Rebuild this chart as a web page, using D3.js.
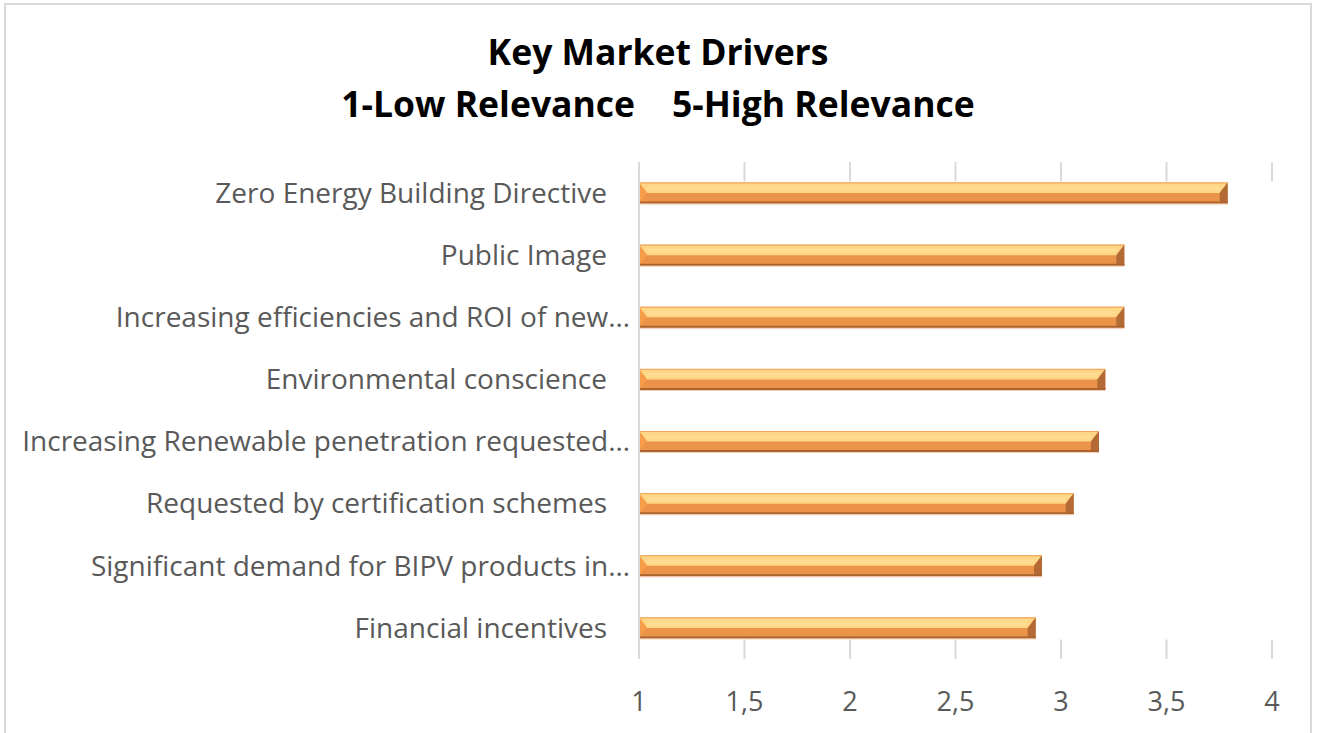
<!DOCTYPE html>
<html>
<head>
<meta charset="utf-8">
<script src="https://cdn.jsdelivr.net/npm/d3@7"></script>
<style>
  body { margin: 0; background: #fff; }
  text { font-family: "Open Sans", sans-serif; }
</style>
</head>
<body>
<div id="visualization"></div>
<script>
// values (scale 1..5, only 1..4 shown)
var drivers = [
  "Zero Energy Building Directive",
  "Public Image",
  "Increasing efficiencies and ROI of new\u2026",
  "Environmental conscience",
  "Increasing Renewable penetration requested\u2026",
  "Requested by certification schemes",
  "Significant demand for BIPV products in\u2026",
  "Financial incentives"
];
var scores = [3.79, 3.30, 3.30, 3.21, 3.18, 3.06, 2.91, 2.88];
var ticks = [1, 1.5, 2, 2.5, 3, 3.5, 4];
var titleLines = ["Key Market Drivers", "1-Low Relevance    5-High Relevance"];

render();

function render() {
  var width = 1317, height = 733;
  var data = drivers.map(function(d, i) { return {name: d, value: scores[i]}; });

  var svg = d3.select("#visualization").append("svg")
      .attr("width", width)
      .attr("height", height);

  // chart border
  svg.append("rect")
     .attr("x", 5).attr("y", 4)
     .attr("width", 1306).attr("height", 760)
     .attr("fill", "#fff")
     .attr("stroke", "#d9d9d9")
     .attr("stroke-width", 2);

  var x = d3.scaleLinear().domain([1, 4]).range([639, 1272]);
  var y = d3.scaleBand()
            .domain(drivers)
            .range([162, 659])
            .paddingInner(0.66)
            .paddingOuter(0.33);

  // title
  svg.append("text")
     .attr("x", 658)
     .attr("text-anchor", "middle")
     .style("font-weight", "bold")
     .style("font-size", "35.5px")
     .attr("fill", "#000")
     .selectAll("tspan")
     .data(titleLines)
     .enter().append("tspan")
     .attr("x", 658)
     .attr("y", function(d, i) { return 65 + i * 52; })
     .style("white-space", "pre")
     .text(function(d) { return d; });

  // gridlines: only the parts above the first bar and below the last one show
  var top = y(drivers[0]), bottom = y(drivers[drivers.length - 1]) + y.bandwidth();
  var grid = svg.append("g");
  grid.selectAll(".g-top")
     .data(ticks.slice(1))
     .enter().append("line")
     .attr("x1", d => x(d)).attr("x2", d => x(d))
     .attr("y1", 162).attr("y2", top - 1)
     .attr("stroke", "#d9d9d9")
     .attr("stroke-width", 2);
  grid.selectAll(".g-bot")
     .data(ticks.slice(1))
     .enter().append("line")
     .attr("x1", d => x(d)).attr("x2", d => x(d))
     .attr("y1", bottom + 1).attr("y2", 659)
     .attr("stroke", "#d9d9d9")
     .attr("stroke-width", 2);

  // x tick labels
  svg.append("g")
     .selectAll("text")
     .data(ticks)
     .enter().append("text")
     .attr("x", d => x(d))
     .attr("y", 711)
     .attr("text-anchor", "middle")
     .style("font-size", "27px")
     .attr("fill", "#595959")
     .text(d => String(d).replace(".", ","));

  // category labels
  svg.append("g")
     .selectAll("text")
     .data(drivers)
     .enter().append("text")
     .attr("x", d => x(1) - (d.slice(-1) === "\u2026" ? 9 : 32))
     .attr("y", d => y(d) + y.bandwidth() / 2)
     .attr("dy", "0.35em")
     .attr("text-anchor", "end")
     .style("font-size", "28px")
     .attr("fill", "#595959")
     .text(d => d);

  // bevelled bars
  var b = 8;
  var bars = svg.append("g").selectAll("g")
     .data(data)
     .enter().append("g");

  bars.append("rect")
     .attr("x", x(1))
     .attr("y", d => y(d.name))
     .attr("width", d => x(d.value) - x(1))
     .attr("height", y.bandwidth())
     .attr("fill", "#eb9349");

  bars.append("polygon")
     .attr("fill", "#ffd685")
     .attr("points", function(d) {
       var x0 = x(1), x1 = x(d.value), y0 = y(d.name), h = y.bandwidth();
       return [[x0, y0], [x1, y0], [x1 - b, y0 + h * 0.5], [x0 + b, y0 + h * 0.5]].join(" ");
     });

  // lighter strip in the middle of the top face
  bars.append("rect")
     .attr("x", x(1) + b)
     .attr("y", d => y(d.name) + 4)
     .attr("width", d => Math.max(0, x(d.value) - x(1) - 2 * b))
     .attr("height", 4)
     .attr("fill", "#ffdc8f");

  bars.append("polygon")
     .attr("fill", "#f59d48")
     .attr("points", function(d) {
       var x0 = x(1), y0 = y(d.name), h = y.bandwidth();
       return [[x0, y0], [x0 + b, y0 + h * 0.5], [x0, y0 + h]].join(" ");
     });

  bars.append("polygon")
     .attr("fill", "#b46a34")
     .attr("points", function(d) {
       var x1 = x(d.value), y0 = y(d.name), h = y.bandwidth();
       return [[x1, y0], [x1 - b, y0 + h * 0.5], [x1 - b, y0 + h - 2], [x1, y0 + h]].join(" ");
     });

  bars.append("line")
     .attr("x1", x(1)).attr("x2", d => x(d.value))
     .attr("y1", d => y(d.name) + y.bandwidth() - 1)
     .attr("y2", d => y(d.name) + y.bandwidth() - 1)
     .attr("stroke", "#a9632f")
     .attr("stroke-width", 2);

  bars.append("line")
     .attr("x1", x(1)).attr("x2", d => x(d.value))
     .attr("y1", d => y(d.name) + y.bandwidth() + 0.5)
     .attr("y2", d => y(d.name) + y.bandwidth() + 0.5)
     .attr("stroke", "#f3cdb4")
     .attr("stroke-width", 1);

  bars.append("line")
     .attr("x1", x(1)).attr("x2", d => x(d.value))
     .attr("y1", d => y(d.name) + 0.5)
     .attr("y2", d => y(d.name) + 0.5)
     .attr("stroke", "#f0a45c")
     .attr("stroke-width", 1);

  // vertical axis line
  svg.append("line")
     .attr("x1", x(1)).attr("x2", x(1))
     .attr("y1", 162).attr("y2", 659)
     .attr("stroke", "#d9d9d9")
     .attr("stroke-width", 2);
}
</script>
</body>
</html>
